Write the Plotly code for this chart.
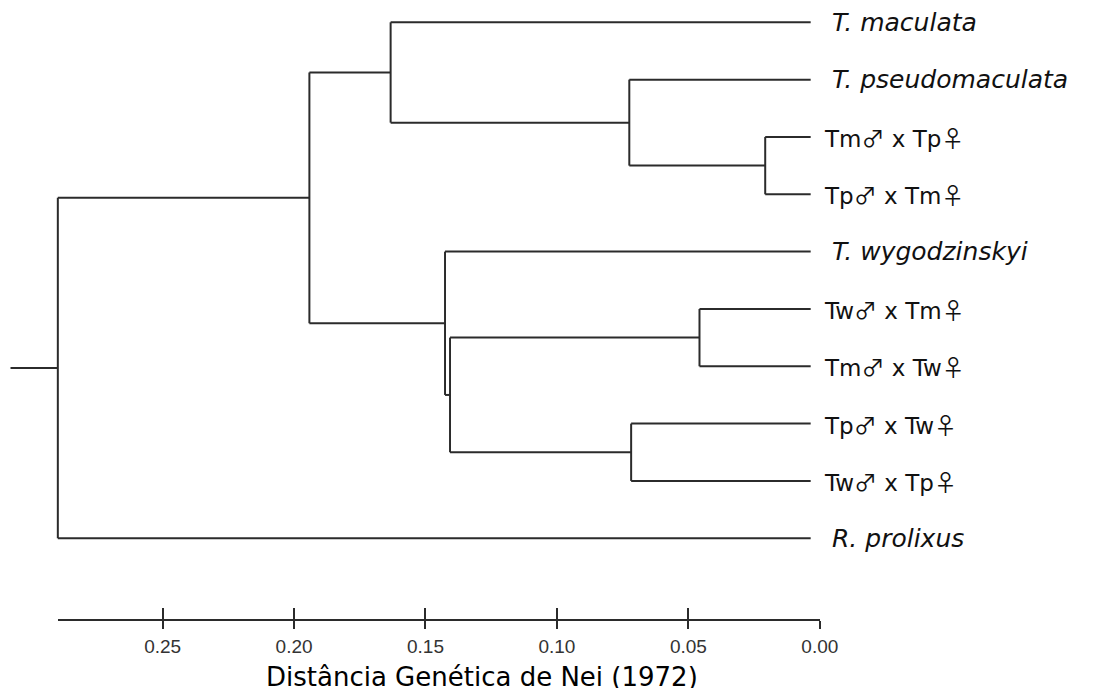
import plotly.graph_objects as go

# ---------------- data ----------------
leaf_names = ["T. maculata", "T. pseudomaculata", "Tm♂ x Tp♀", "Tp♂ x Tm♀",
              "T. wygodzinskyi", "Tw♂ x Tm♀", "Tm♂ x Tw♀", "Tp♂ x Tw♀",
              "Tw♂ x Tp♀", "R. prolixus"]
leaf_italic = [True, True, False, False, True, False, False, False, False, True]
leaf_height = 0.0035

# internal nodes: (name, child_a, child_b, height in Nei distance)
node_names = ["n1", "n2", "n3", "n4", "n5", "n6", "n7", "n8", "root"]
node_child_a = ["Tm♂ x Tp♀", "T. pseudomaculata", "T. maculata", "Tw♂ x Tm♀",
                "Tp♂ x Tw♀", "n4", "T. wygodzinskyi", "n3", "n8"]
node_child_b = ["Tp♂ x Tm♀", "n1", "n2", "Tm♂ x Tw♀", "Tw♂ x Tp♀", "n5",
                "n6", "n7", "R. prolixus"]
node_heights = [0.0208, 0.0725, 0.1633, 0.0458, 0.0718, 0.1407, 0.1426, 0.1942, 0.2899]
root_stub = 0.3079

tick_vals = [0.25, 0.20, 0.15, 0.10, 0.05, 0.00]
tick_text = ["0.25", "0.20", "0.15", "0.10", "0.05", "0.00"]
axis_title = "Distância Genética de Nei (1972)"

# ---------------- layout of tree ----------------
pos_x = {n: leaf_height for n in leaf_names}
pos_y = {n: i for i, n in enumerate(leaf_names)}
for name, a, b, h in zip(node_names, node_child_a, node_child_b, node_heights):
    pos_x[name] = h
    pos_y[name] = (pos_y[a] + pos_y[b]) / 2

xs, ys = [], []
for name, a, b in zip(node_names, node_child_a, node_child_b):
    h = pos_x[name]
    xs += [h, h, None]
    ys += [pos_y[a], pos_y[b], None]
    for c in (a, b):
        xs += [h, pos_x[c], None]
        ys += [pos_y[c], pos_y[c], None]
xs += [root_stub, pos_x["root"], None]
ys += [pos_y["root"], pos_y["root"], None]

LINE = "#2b2b2b"
fig = go.Figure()
fig.add_trace(go.Scatter(x=xs, y=ys, mode="lines",
                         line=dict(color=LINE, width=2),
                         hoverinfo="skip", showlegend=False,
                         xaxis="x", yaxis="y"))

SYM = "<span style=\"font-family:'Noto Sans CJK JP'\">%s</span>"

annos = []
for i, n in enumerate(leaf_names):
    if leaf_italic[i]:
        font = dict(family="DejaVu Sans, Verdana", size=25, color="#111")
        txt = "<i>%s</i>" % n
        shift = 19
    else:
        font = dict(family="DejaVu Sans, Verdana", size=23, color="#111")
        txt = n.replace("♂", SYM % "♂").replace("♀", SYM % "♀")
        shift = 11
    annos.append(dict(x=leaf_height, y=i, xref="x", yref="y", text=txt,
                      showarrow=False, xanchor="left", yanchor="middle",
                      xshift=shift, font=font))

fig.add_trace(go.Scatter(x=tick_vals, y=[0] * len(tick_vals), mode="markers",
                         marker=dict(opacity=0), hoverinfo="skip",
                         showlegend=False, xaxis="x2", yaxis="y2"))
fig.add_trace(go.Scatter(x=tick_vals, y=[0] * len(tick_vals), mode="markers",
                         marker=dict(opacity=0), hoverinfo="skip",
                         showlegend=False, xaxis="x3", yaxis="y2"))

W, H = 1111, 688
x_left_px, x_right_px = 58.7, 833.3
axis_y_px = 619

annos.append(dict(x=490 / W, y=1 - 677 / H, xref="paper", yref="paper",
                  text=axis_title, showarrow=False, xanchor="center",
                  yanchor="middle",
                  font=dict(family="DejaVu Sans, Verdana", size=26, color="#000")))

fig.update_layout(
    width=W, height=H,
    margin=dict(l=0, r=0, t=0, b=0),
    paper_bgcolor="white", plot_bgcolor="white",
    xaxis=dict(domain=[0, 1], range=[0.3119, -0.1039], visible=False),
    yaxis=dict(domain=[0, 1], range=[11.612, -0.389], visible=False),
    xaxis2=dict(domain=[x_left_px / W, x_right_px / W], range=[0.2899, 0.0],
                anchor="y2", side="bottom", showline=True, linecolor=LINE,
                linewidth=2, ticks="outside", ticklen=8, tickwidth=1.5,
                tickcolor=LINE, tickvals=tick_vals, ticktext=tick_text,
                tickfont=dict(family="Liberation Sans, Arial", size=19, color="#333"),
                showgrid=False, zeroline=False, ticklabelstandoff=1),
    xaxis3=dict(overlaying="x2", range=[0.2899, 0.0], anchor="y2",
                side="bottom", showline=False, ticks="inside", ticklen=11,
                tickwidth=1.5, tickcolor=LINE, tickvals=tick_vals,
                showticklabels=False, showgrid=False, zeroline=False),
    yaxis2=dict(domain=[1 - axis_y_px / H, 1 - axis_y_px / H + 0.05],
                visible=False, range=[0, 1]),
    annotations=annos,
)

fig.write_html("out.html", config={"displayModeBar": False},
               post_script="document.body.style.margin='0';")
